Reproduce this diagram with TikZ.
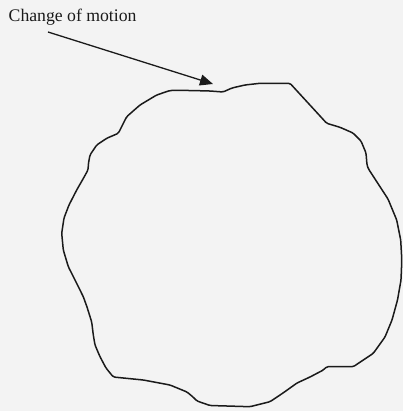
\documentclass[tikz,border=0pt]{standalone}
\usepackage{fontspec}
\setmainfont{Liberation Serif}
\usetikzlibrary{arrows.meta}
\definecolor{paper}{HTML}{F3F3F3}
\definecolor{ink}{HTML}{1A1A1A}
\tikzset{
  blob/.style={draw=ink, line width=1.5pt, rounded corners=1.5pt, line join=round},
  pointer/.style={draw=ink, line width=1.3pt, -{Triangle[length=13pt,width=11pt]}},
  caption/.style={inner sep=0pt, anchor=base west, text=ink, font=\fontsize{17.7}{20}\selectfont}
}
\begin{document}
\begin{tikzpicture}[x=1pt,y=-1pt]
\fill[paper] (0,0) rectangle (403,411);
\useasboundingbox (0,0) rectangle (403,411);
\node[caption] (label) at (8.5,22) {Change of motion};
\coordinate (arrowstart) at (48,32);
\coordinate (arrowtip) at (213,84);
\draw[pointer] (arrowstart) -- (arrowtip);
\draw[blob] (118.3,133.3) -- (126.7,116.7) -- (140,105) -- (156.7,95) -- (170,90.5)
 -- (190,90.5) -- (210,91) -- (223,92) -- (232,88) -- (245,85) -- (260,83.3)
 -- (290,83.3) -- (326.7,123.3) -- (340,127.3) -- (353,133) -- (361,141)
 -- (366,153) -- (367,165) -- (368.5,169) -- (380,186.7) -- (388,199)
 -- (396.7,220) -- (400.7,240) -- (401.8,260) -- (401,280) -- (397.5,300)
 -- (392,320) -- (385,337) -- (373.3,353.3) -- (353.3,366.7) -- (326.7,366.7)
 -- (323.3,370) -- (310,377) -- (297,383) -- (283,393) -- (270,401.7)
 -- (250,406.7) -- (210,405.5) -- (197,401) -- (193,397) -- (187,392)
 -- (170,385) -- (143.3,380) -- (113.3,377) -- (106,368) -- (100,356.7)
 -- (95,345) -- (93.3,335) -- (91.7,322) -- (87,307) -- (83.3,296.7)
 -- (75,280) -- (68.3,266.7) -- (63.3,250) -- (61.7,233.3) -- (64,218)
 -- (69,205) -- (76.7,190) -- (83,179) -- (88,170) -- (88.5,163) -- (90,155)
 -- (96.7,145) -- (106.7,138.3) -- cycle;
\end{tikzpicture}
\end{document}
